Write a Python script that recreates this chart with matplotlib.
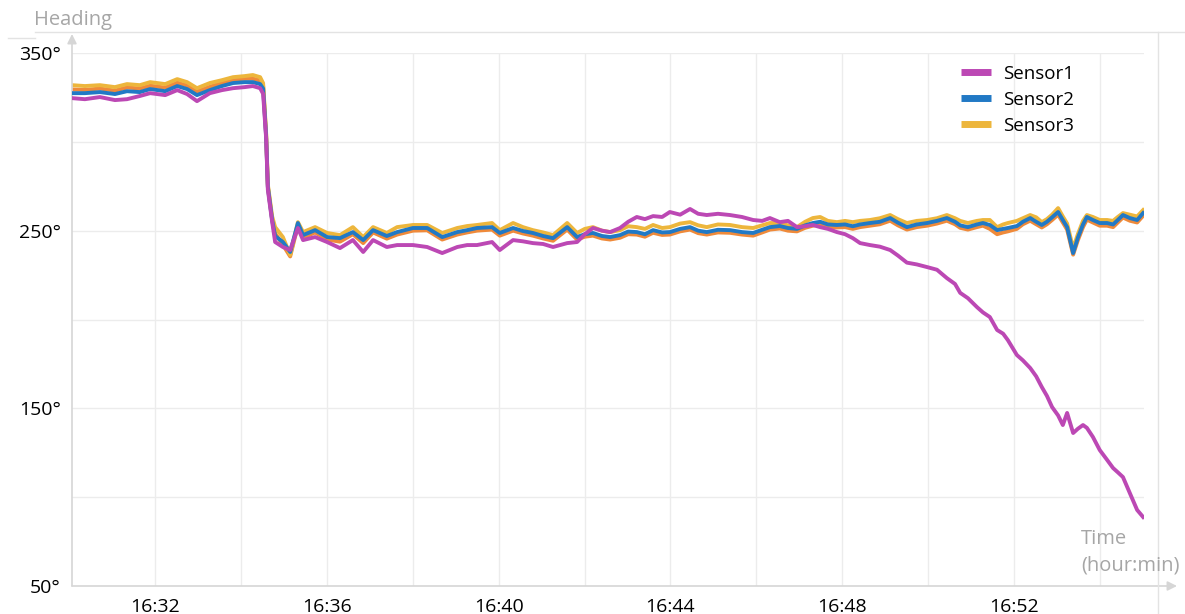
import matplotlib
matplotlib.use("Agg")
import matplotlib.pyplot as plt
import matplotlib.dates as mdates
from matplotlib.lines import Line2D
import pandas as pd

plt.rcParams['font.family'] = ['Open Sans', 'DejaVu Sans']

# ---------------- data ----------------
start_time = "2024-01-01 16:30:04"
# minutes since start
t_min = [0.00,0.30,0.65,1.00,1.28,1.58,1.82,2.17,2.45,2.68,2.91,3.21,3.49,3.75,4.02,4.21,4.38,4.45,4.52,4.56,
         4.66,4.73,4.91,5.08,5.26,5.38,5.66,5.94,6.24,6.54,6.78,7.01,7.33,7.57,7.94,8.27,8.62,8.97,9.20,9.43,
         9.78,9.96,10.27,10.50,10.73,10.97,11.20,11.53,11.76,11.94,12.13,12.34,12.53,12.76,12.95,13.15,13.34,13.53,13.74,13.92,
         14.16,14.39,14.58,14.78,15.04,15.32,15.60,15.86,16.07,16.25,16.48,16.67,16.88,17.07,17.25,17.42,17.60,17.81,18.00,18.18,
         18.35,18.58,18.81,19.05,19.23,19.44,19.67,19.91,20.14,20.37,20.56,20.68,20.86,21.07,21.21,21.37,21.54,21.68,21.79,22.00,
         22.14,22.31,22.45,22.58,22.70,22.82,22.96,23.07,23.17,23.31,23.42,23.54,23.63,23.77,23.93,24.10,24.24,24.35,24.47,24.63,
         24.80,24.94]

sensor1 = [324.6,324.0,325.2,323.5,324.0,325.8,327.4,326.3,329.1,326.9,322.9,327.4,329.1,330.2,330.8,331.4,330.2,327.0,302.0,273.0,
           255.0,243.6,240.8,239.1,251.5,244.7,246.4,243.6,240.2,244.7,238.0,244.7,240.8,241.9,241.9,240.8,237.4,240.8,241.9,241.9,
           243.6,239.1,244.7,244.0,243.0,242.5,240.8,243.0,243.6,248.0,251.5,250.0,249.2,251.5,255.0,257.7,256.5,258.2,257.7,260.5,
           259.0,262.2,259.5,258.8,259.5,258.8,257.7,256.0,255.5,257.1,254.8,255.5,252.0,252.5,253.2,252.0,251.0,249.2,248.0,245.8,
           243.0,241.9,241.0,239.1,236.0,232.0,231.0,229.5,228.0,223.3,220.0,215.0,212.0,207.0,204.0,201.4,194.1,192.0,188.4,180.0,
           177.0,172.7,168.0,162.0,157.0,150.7,146.0,140.6,147.4,136.1,138.5,140.6,139.0,133.9,126.5,121.0,116.4,114.0,111.3,102.3,
           92.8,88.8]

sensor2 = [327.4,327.4,328.0,326.9,328.5,328.0,329.7,328.5,331.4,329.7,326.3,329.1,331.4,333.1,333.6,333.6,332.5,330.0,303.0,274.5,
           256.0,247.0,243.6,238.0,254.3,247.5,250.3,246.4,245.8,249.2,244.7,250.3,247.0,249.2,251.5,251.5,246.4,249.2,250.3,251.5,
           252.0,248.7,251.5,249.8,248.7,247.0,245.8,252.0,246.4,248.0,248.7,247.0,246.4,247.5,249.5,249.2,248.0,250.3,249.0,249.2,
           251.0,252.0,250.0,249.2,250.5,250.3,249.2,248.7,250.5,252.0,252.6,251.5,251.0,253.0,254.3,255.0,253.5,253.2,253.5,252.5,
           253.5,254.3,255.0,257.1,254.5,252.0,253.5,254.3,255.5,257.1,255.0,253.0,252.0,253.5,254.3,253.2,250.3,251.0,251.5,252.6,
           255.0,257.1,255.0,253.2,255.0,257.5,260.5,256.0,252.0,237.4,246.0,253.5,257.7,256.0,254.3,254.3,253.5,256.0,258.8,257.1,
           256.0,259.9]

sensor3 = [331.9,331.4,331.9,330.8,332.5,331.9,333.6,332.5,335.3,333.6,330.2,333.1,334.7,336.4,337.0,337.6,336.4,333.0,305.0,276.0,
           258.0,252.0,246.4,236.3,254.8,249.2,252.0,248.7,247.5,252.0,246.4,252.0,248.7,252.0,253.2,253.2,248.7,251.5,252.6,253.2,
           254.3,250.3,254.3,252.0,250.3,249.0,247.5,254.3,248.7,251.0,252.0,250.0,249.2,250.3,252.5,252.0,251.0,253.2,251.5,252.0,
           254.0,254.8,253.0,252.0,253.5,253.2,252.0,251.5,253.0,254.3,254.3,253.0,252.0,255.0,257.1,257.7,255.5,254.8,255.5,254.8,
           255.5,256.0,257.0,258.8,256.5,254.3,255.5,256.0,257.0,258.8,257.0,255.5,254.3,255.5,256.0,256.0,252.0,253.5,254.3,255.5,
           257.0,258.8,257.5,254.8,256.5,259.0,262.7,258.0,254.0,240.0,248.0,255.5,258.8,257.7,256.0,256.0,255.5,257.7,259.9,259.0,
           258.0,261.6]

# unlabeled fourth trace partly hidden beneath the others
sensor4 = [329.5,329.2,330.0,328.8,330.6,330.0,331.6,330.5,333.3,331.7,328.3,331.0,333.2,335.0,335.5,335.6,334.5,331.5,304.0,275.0,
           256.5,248.5,242.0,235.5,253.0,246.0,249.0,245.0,243.8,248.0,243.0,249.0,245.5,247.8,250.0,250.2,245.0,247.8,249.0,250.0,
           250.6,247.2,250.0,248.4,247.2,245.6,244.3,250.6,245.0,246.6,247.2,245.6,245.0,246.0,248.0,247.8,246.6,248.8,247.6,247.8,
           249.6,250.6,248.6,247.8,249.0,248.8,247.8,247.2,249.0,250.6,251.2,250.0,249.6,251.6,252.8,253.6,252.0,251.8,252.0,251.0,
           252.0,252.8,253.6,255.6,253.0,250.6,252.0,252.8,254.0,255.6,253.6,251.6,250.6,252.0,252.8,251.0,248.0,249.0,249.6,251.0,
           253.6,255.6,253.6,251.8,253.6,256.0,259.0,254.6,250.6,236.5,244.6,252.0,256.2,254.6,252.8,252.8,252.0,254.6,257.4,255.6,
           254.6,258.4]

series_names = ["Sensor1", "Sensor2", "Sensor3"]
series_colors = ["#BC48B4", "#2179C5", "#EDB63C"]
hidden_color = "#EF8A3A"

y_ticks = [50, 150, 250, 350]
y_grid = [50, 100, 150, 200, 250, 300, 350]

assert len(t_min) == len(sensor1) == len(sensor2) == len(sensor3) == len(sensor4)

# ---------------- figure ----------------
W, H = 1185, 614
fig = plt.figure(figsize=(W / 100, H / 100), dpi=100)

x0, x1 = 72, 1144
y0, y1 = 586, 53
ax = fig.add_axes([x0 / W, (H - y0) / H, (x1 - x0) / W, (y0 - y1) / H])

base = pd.Timestamp(start_time)
times = base + pd.to_timedelta(t_min, unit="min")

lw = 2.8
ax.plot(times, sensor4, color=hidden_color, lw=lw, solid_joinstyle="round", zorder=2)
ax.plot(times, sensor3, color=series_colors[2], lw=lw, solid_joinstyle="round", zorder=3)
ax.plot(times, sensor2, color=series_colors[1], lw=lw, solid_joinstyle="round", zorder=4)
ax.plot(times, sensor1, color=series_colors[0], lw=lw, solid_joinstyle="round", zorder=5)

ax.set_xlim(base, base + pd.Timedelta(minutes=24.96))
ax.set_ylim(50, 350)

# ticks / grid
ax.xaxis.set_major_locator(mdates.MinuteLocator(byminute=range(0, 60, 4)))
ax.xaxis.set_minor_locator(mdates.MinuteLocator(byminute=range(0, 60, 2)))
ax.xaxis.set_major_formatter(mdates.DateFormatter("%H:%M"))
ax.set_yticks(y_ticks)
ax.set_yticklabels([f"{v}°" for v in y_ticks])
ax.set_yticks(y_grid, minor=True)
ax.grid(True, which="both", color="#ececec", lw=1.0, zorder=0)
ax.tick_params(which="both", length=0)
ax.tick_params(axis="x", labelsize=14, pad=8.5, colors="#000000")
ax.tick_params(axis="y", labelsize=14, pad=8, colors="#000000")
for s in ax.spines.values():
    s.set_visible(False)

# axis arrows and frame lines (figure pixels, origin bottom-left)
arrow_col = "#d6d6d6"
ax.annotate("", xy=(1177, H - 586), xytext=(x0, H - 586), xycoords="figure pixels",
            textcoords="figure pixels",
            arrowprops=dict(arrowstyle="-|>", color=arrow_col, lw=1.2, mutation_scale=14,
                            shrinkA=0, shrinkB=0))
ax.annotate("", xy=(x0, H - 34), xytext=(x0, H - 586), xycoords="figure pixels",
            textcoords="figure pixels",
            arrowprops=dict(arrowstyle="-|>", color=arrow_col, lw=1.2, mutation_scale=14,
                            shrinkA=0, shrinkB=0))
fig.add_artist(Line2D([35 / W, 1.0], [(H - 32) / H, (H - 32) / H], color="#e3e3e3", lw=1.0))
fig.add_artist(Line2D([8 / W, 35 / W], [(H - 38) / H, (H - 38) / H], color="#e3e3e3", lw=1.0))
fig.add_artist(Line2D([1158 / W, 1158 / W], [0, (H - 32) / H], color="#e3e3e3", lw=1.0))

# axis titles
fig.text(34 / W, (H - 20) / H, "Heading", color="#a6a6a6", fontsize=14.5, ha="left", va="center")
fig.text(1081 / W, (H - 539) / H, "Time", color="#a6a6a6", fontsize=14.5, ha="left", va="center")
fig.text(1081 / W, (H - 566) / H, "(hour:min)", color="#a6a6a6", fontsize=14.5, ha="left", va="center")

# legend
handles = [Line2D([0], [0], color=c, lw=5, solid_capstyle="butt") for c in series_colors]
fig.legend(handles, series_names, loc="upper left", bbox_to_anchor=(961 / W, (H - 65) / H),
           frameon=False, fontsize=13.5, handlelength=1.6, handletextpad=0.65,
           labelspacing=0.42, borderpad=0, borderaxespad=0)

fig.savefig("out.png", dpi=100)
